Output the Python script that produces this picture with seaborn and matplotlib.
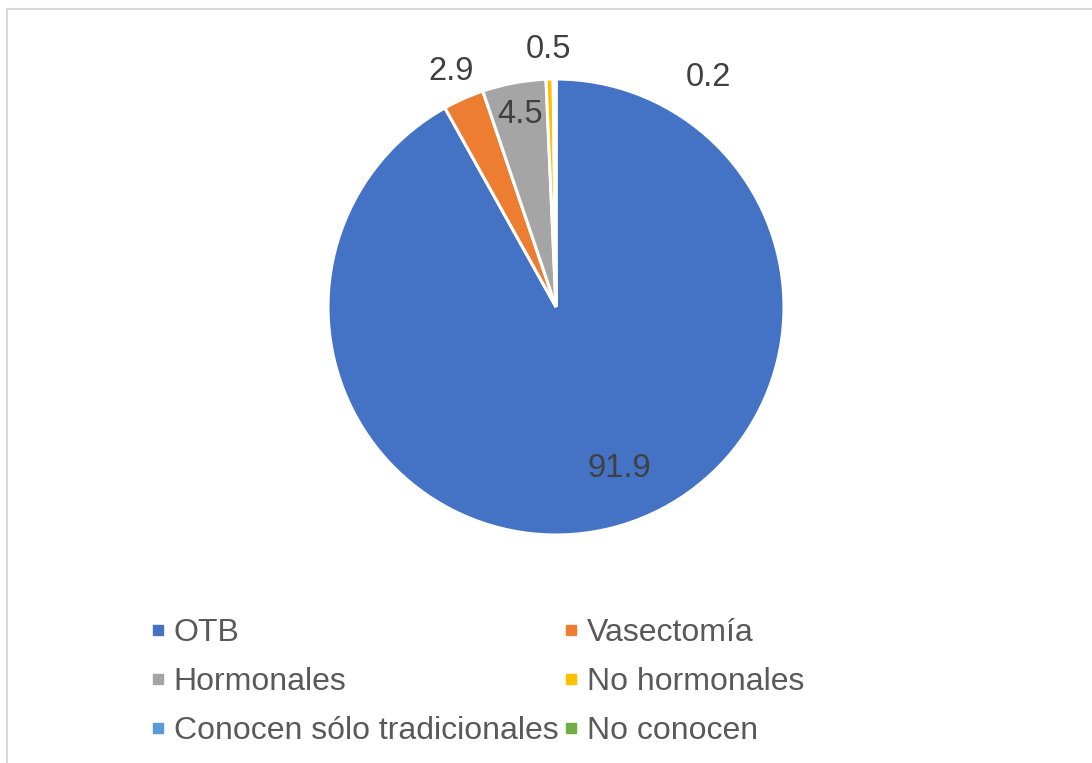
import numpy as np
import matplotlib
matplotlib.use("Agg")
import matplotlib.pyplot as plt
from matplotlib.lines import Line2D
from matplotlib.patches import Rectangle
import seaborn as sns

# data
categorias = ["OTB", "Vasectomía", "Hormonales", "No hormonales",
              "Conocen sólo tradicionales", "No conocen"]
valores = [91.9, 2.9, 4.5, 0.5, 0.2, 0.0]
colores = ["#4472C4", "#ED7D31", "#A5A5A5", "#FFC000", "#5B9BD5", "#70AD47"]

# label placement (radius, angle shift in degrees) per slice
lab_r = [0.76, 1.13, 0.86, 1.13, 1.21, 1.1]
lab_shift = [7, 0, 0, 0, -34, 0]

sns.set_theme(style="white")
plt.rcParams["font.family"] = ["Liberation Sans", "DejaVu Sans"]

fig = plt.figure(figsize=(10.92, 7.63), dpi=100)
W, H = 1092, 763
cx, cy, r = 556, 307, 228
ax = fig.add_axes([(cx - r) / W, 1 - (cy + r) / H, 2 * r / W, 2 * r / H])

wedges, _ = ax.pie(valores, colors=colores, startangle=90, counterclock=False,
                   radius=1, wedgeprops=dict(edgecolor="white", linewidth=2.2))
ax.set_xlim(-1, 1)
ax.set_ylim(-1, 1)
ax.set_aspect("equal")
ax.axis("off")

# data labels
for w, v, rr, sh in zip(wedges, valores, lab_r, lab_shift):
    if v <= 0:
        continue
    ang = np.deg2rad((w.theta1 + w.theta2) / 2 + sh)
    ax.text(rr * np.cos(ang), rr * np.sin(ang), f"{v:.1f}", ha="center",
            va="center", fontsize=23.5, color="#404040", clip_on=False)

# legend, two columns filled row by row
orden = [0, 2, 4, 1, 3, 5]
handles = [Line2D([], [], marker="s", linestyle="none", markersize=7,
                  markerfacecolor=colores[i], markeredgecolor=colores[i],
                  label=categorias[i]) for i in orden]
fig.legend(handles=handles, ncol=2, loc="upper left",
           bbox_to_anchor=(132 / W, 1 - 602 / H), frameon=False,
           fontsize=23, labelcolor="#595959", handlelength=0.6,
           handletextpad=0.2, columnspacing=0.1, labelspacing=0.6,
           borderpad=0)

# thin gray frame (chart area border)
fig.patches.append(Rectangle((7 / W, -0.05), 1.2, 1 - 9 / H + 0.05,
                             transform=fig.transFigure, fill=False,
                             edgecolor="#D9D9D9", linewidth=1.5))

fig.savefig("out.png", dpi=100, facecolor="white")
